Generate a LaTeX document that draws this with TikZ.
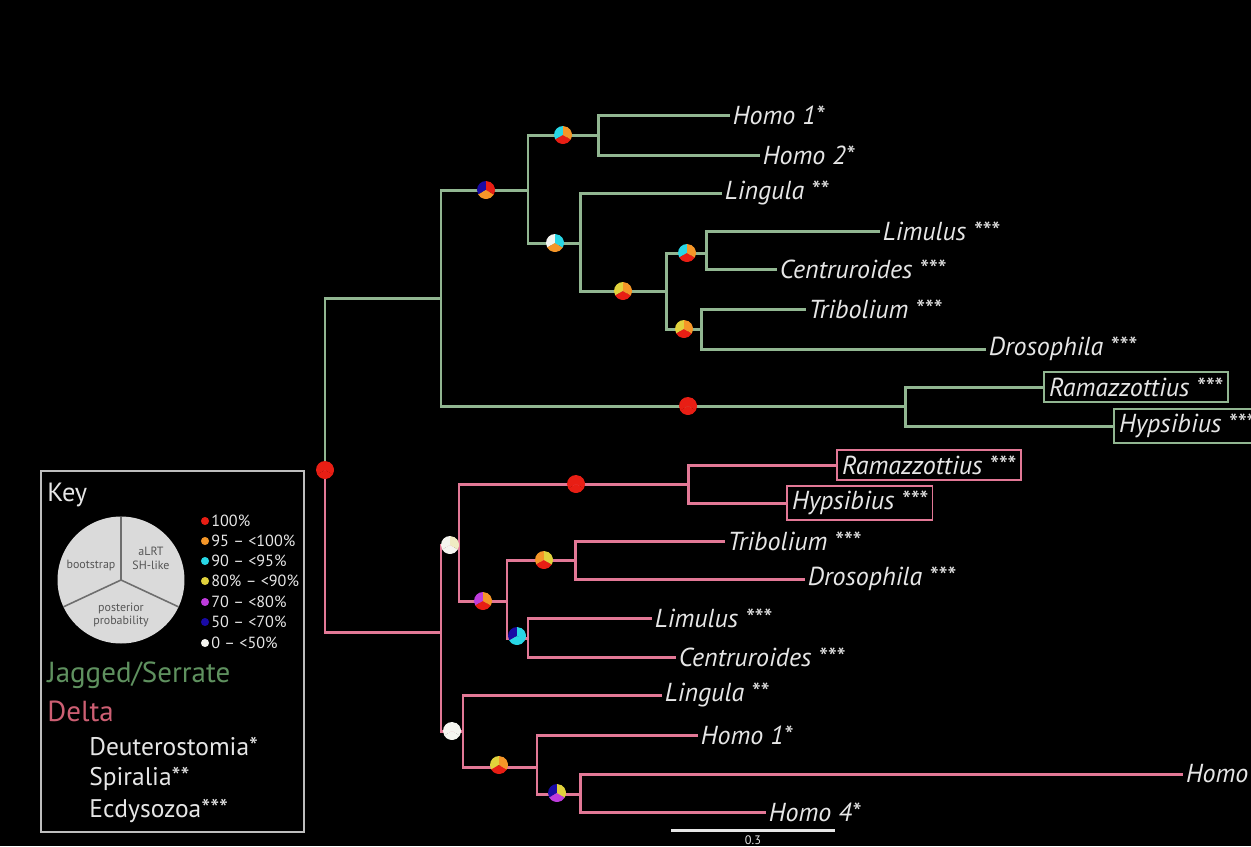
\documentclass[tikz,border=0pt]{standalone}
\usepackage{fontspec}
\setmainfont{PT Sans}
\definecolor{jagc}{RGB}{145,182,145}
\definecolor{jagt}{RGB}{95,145,95}
\definecolor{delc}{RGB}{226,120,150}
\definecolor{delt}{RGB}{205,95,115}
\definecolor{lab}{RGB}{230,230,230}
\definecolor{keyb}{RGB}{190,190,190}
\definecolor{pred}{RGB}{232,30,20}
\definecolor{pora}{RGB}{245,150,40}
\definecolor{pcya}{RGB}{40,215,230}
\definecolor{pyel}{RGB}{225,210,60}
\definecolor{ppur}{RGB}{190,60,220}
\definecolor{pblu}{RGB}{25,10,165}
\definecolor{pwhi}{RGB}{245,245,240}
\newlength{\pr}
\setlength{\pr}{0.18cm}
\newcommand{\tpie}[4]{%
  \fill[#2] (#1) -- ++(90:\pr) arc[start angle=90,end angle=210,radius=\pr] -- cycle;
  \fill[#4] (#1) -- ++(210:\pr) arc[start angle=210,end angle=330,radius=\pr] -- cycle;
  \fill[#3] (#1) -- ++(330:\pr) arc[start angle=330,end angle=450,radius=\pr] -- cycle;
}
\tikzset{
  jag/.style={draw=jagc, line width=1.7pt},
  del/.style={draw=delc, line width=1.7pt},
  leaf/.style={anchor=west, text=lab, font=\itshape\fontsize{14.8}{16}\selectfont, inner sep=1.5pt},
  gbox/.style={leaf, draw=jagc, line width=1pt, inner sep=3pt},
  pbox/.style={leaf, draw=delc, line width=1pt, inner sep=3pt},
  keytxt/.style={anchor=west, font=\fontsize{14.5}{16}\selectfont, inner sep=0pt},
  legtxt/.style={anchor=west, text=lab, font=\fontsize{9.2}{10}\selectfont, inner sep=0pt},
  pietxt/.style={text={rgb,255:red,85;green,85;blue,85}, font=\fontsize{6.8}{7.8}\selectfont, align=center, inner sep=0pt},
}
\begin{document}
\begin{tikzpicture}[x=0.02cm,y=-0.02cm]
\useasboundingbox (0,0) rectangle (1251,846);
\fill[black] (0,0) rectangle (1251,846);
\clip (0,0) rectangle (1251,846);

% ---------- coordinates ----------
\coordinate (R) at (325,470);
% green tree
\coordinate (G1) at (441,298);
\coordinate (G2) at (528,190);
\coordinate (G3) at (598,135);
\coordinate (G4) at (580,243);
\coordinate (G5) at (666,291);
\coordinate (G6) at (706,253);
\coordinate (G7) at (701,329);
\coordinate (G8) at (905,406);
\coordinate (gH1) at (730,115);
\coordinate (gH2) at (760,155);
\coordinate (gLi) at (722,193);
\coordinate (gLm) at (880,231);
\coordinate (gCe) at (777,269);
\coordinate (gTr) at (806,309);
\coordinate (gDr) at (986,349);
\coordinate (gRa) at (1043,387);
\coordinate (gHy) at (1113,426);
% pink tree
\coordinate (P1) at (441,632);
\coordinate (P2) at (459,545);
\coordinate (P3) at (688,484);
\coordinate (P4) at (507,601);
\coordinate (P5) at (575,560);
\coordinate (P6) at (528,638);
\coordinate (P7) at (463,731);
\coordinate (P8) at (537,767);
\coordinate (P9) at (580,794);
\coordinate (pRa) at (836,465);
\coordinate (pHy) at (786,503);
\coordinate (pTr) at (725,541);
\coordinate (pDr) at (805,579);
\coordinate (pLm) at (652,618);
\coordinate (pCe) at (676,657);
\coordinate (pLi) at (662,695);
\coordinate (pH1) at (698,735);
\coordinate (pH3) at (1183,774);
\coordinate (pH4) at (766,812);

% ---------- green branches ----------
\draw[jag] (R) |- (G1);
\draw[jag] (G1) |- (G2);
\draw[jag] (G1) |- (G8);
\draw[jag] (G2) |- (G3);
\draw[jag] (G2) |- (G4);
\draw[jag] (G3) |- (gH1);
\draw[jag] (G3) |- (gH2);
\draw[jag] (G4) |- (gLi);
\draw[jag] (G4) |- (G5);
\draw[jag] (G5) |- (G6);
\draw[jag] (G5) |- (G7);
\draw[jag] (G6) |- (gLm);
\draw[jag] (G6) |- (gCe);
\draw[jag] (G7) |- (gTr);
\draw[jag] (G7) |- (gDr);
\draw[jag] (G8) |- (gRa);
\draw[jag] (G8) |- (gHy);

% ---------- pink branches ----------
\draw[del] (R) |- (P1);
\draw[del] (P1) |- (P2);
\draw[del] (P1) |- (P7);
\draw[del] (P2) |- (P3);
\draw[del] (P2) |- (P4);
\draw[del] (P3) |- (pRa);
\draw[del] (P3) |- (pHy);
\draw[del] (P4) |- (P5);
\draw[del] (P4) |- (P6);
\draw[del] (P5) |- (pTr);
\draw[del] (P5) |- (pDr);
\draw[del] (P6) |- (pLm);
\draw[del] (P6) |- (pCe);
\draw[del] (P7) |- (pLi);
\draw[del] (P7) |- (P8);
\draw[del] (P8) |- (pH1);
\draw[del] (P8) |- (P9);
\draw[del] (P9) |- (pH3);
\draw[del] (P9) |- (pH4);

% ---------- leaf labels ----------
\node[leaf] (lgH1) at (gH1) {Homo 1*};
\node[leaf] (lgH2) at (gH2) {Homo 2*};
\node[leaf] (lgLi) at (gLi) {Lingula **};
\node[leaf] (lgLm) at (gLm) {Limulus ***};
\node[leaf] (lgCe) at (gCe) {Centruroides ***};
\node[leaf] (lgTr) at (gTr) {Tribolium ***};
\node[leaf] (lgDr) at (gDr) {Drosophila ***};
\node[gbox] (lgRa) at (gRa) {Ramazzottius ***};
\node[gbox] (lgHy) at (gHy) {Hypsibius ***};
\node[pbox] (lpRa) at (pRa) {Ramazzottius ***};
\node[pbox] (lpHy) at (pHy) {Hypsibius ***};
\node[leaf] (lpTr) at (pTr) {Tribolium ***};
\node[leaf] (lpDr) at (pDr) {Drosophila ***};
\node[leaf] (lpLm) at (pLm) {Limulus ***};
\node[leaf] (lpCe) at (pCe) {Centruroides ***};
\node[leaf] (lpLi) at (pLi) {Lingula **};
\node[leaf] (lpH1) at (pH1) {Homo 1*};
\node[leaf] (lpH3) at (pH3) {Homo};
\node[leaf] (lpH4) at (pH4) {Homo 4*};

% ---------- support pies ----------
\coordinate (qR) at (325,470);
\coordinate (qG2) at (486,190);
\coordinate (qG3) at (563,135);
\coordinate (qG4) at (555,243);
\coordinate (qG5) at (623,291);
\coordinate (qG6) at (687,253);
\coordinate (qG7) at (684,329);
\coordinate (qG8) at (688,406);
\coordinate (qP2) at (450,545);
\coordinate (qP3) at (576,484);
\coordinate (qP4) at (483,601);
\coordinate (qP5) at (544,560);
\coordinate (qP6) at (517,636);
\coordinate (qP7) at (452,731);
\coordinate (qP8) at (499,765);
\coordinate (qP9) at (557,793);
\tpie{qR}{pred}{pred}{pred}
\tpie{qG2}{pblu}{pred}{pora}
\tpie{qG3}{pcya}{pora}{pred}
\tpie{qG4}{pwhi}{pcya}{pora}
\tpie{qG5}{pyel}{pora}{pred}
\tpie{qG6}{pcya}{pora}{pred}
\tpie{qG7}{pyel}{pora}{pred}
\tpie{qG8}{pred}{pred}{pred}
\tpie{qP2}{pwhi}{pwhi!75!pyel}{pwhi}
\tpie{qP3}{pred}{pred}{pred}
\tpie{qP4}{ppur}{pora}{pred}
\tpie{qP5}{pora}{pyel}{pred}
\tpie{qP6}{pblu}{pcya}{pcya}
\tpie{qP7}{pwhi}{pwhi}{pwhi}
\tpie{qP8}{pyel}{pora}{pred}
\tpie{qP9}{pblu}{pyel}{ppur}

% ---------- scale bar ----------
\coordinate (sbA) at (671,830);
\coordinate (sbB) at (835,830);
\draw[draw=lab, line width=1.7pt] (sbA) -- (sbB);
\node[text=lab, font=\fontsize{7}{8}\selectfont, inner sep=0pt] (sbl) at (753,840) {0.3};

% ---------- key ----------
\node[draw=keyb, line width=1.2pt, minimum width=263*0.02cm, minimum height=361*0.02cm, anchor=north west, inner sep=0pt] (keybox) at (40,470) {};
\node[keytxt, text=lab, font=\fontsize{15}{16}\selectfont] (keyt) at (47,495) {Key};
\coordinate (kc) at (121,580);
\fill[fill={rgb,255:red,218;green,218;blue,218}] (kc) circle[radius=1.27cm];
\draw[draw={rgb,255:red,110;green,110;blue,110}, line width=0.9pt] (kc) -- ++(90:1.27cm);
\draw[draw={rgb,255:red,110;green,110;blue,110}, line width=0.9pt] (kc) -- ++(205:1.27cm);
\draw[draw={rgb,255:red,110;green,110;blue,110}, line width=0.9pt] (kc) -- ++(335:1.27cm);
\node[pietxt] (kb) at (91,566) {bootstrap};
\node[pietxt] (ka) at (151,558) {aLRT\\SH-like};
\node[pietxt] (kp) at (121,615) {posterior\\probability};

\foreach \yy/\cc/\tt [count=\i] in {521/pred/100\%, 541/pora/95 -- <100\%, 561/pcya/90 -- <95\%, 581/pyel/80\% -- <90\%, 602/ppur/70 -- <80\%, 622/pblu/50 -- <70\%, 643/pwhi/0 -- <50\%}{
  \fill[\cc] (205,\yy) circle[radius=2.3pt];
  \node[legtxt] (leg\i) at (211,\yy) {\tt};
}

\node[keytxt, text=jagt, font=\fontsize{16.5}{18}\selectfont] (kj) at (47,675) {Jagged/Serrate};
\node[keytxt, text=delt, font=\fontsize{16.5}{18}\selectfont] (kd) at (47,711) {Delta};
\node[keytxt, text=lab] (k1) at (89,747) {Deuterostomia*};
\node[keytxt, text=lab] (k2) at (89,779) {Spiralia**};
\node[keytxt, text=lab] (k3) at (89,811) {Ecdysozoa***};
\end{tikzpicture}
\end{document}
